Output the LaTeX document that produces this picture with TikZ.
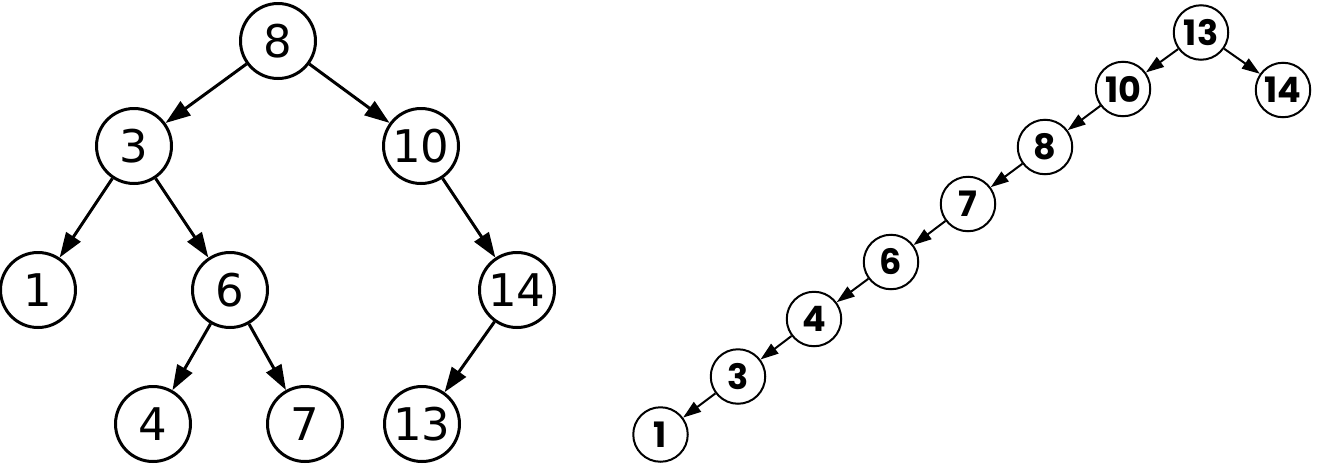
\documentclass[tikz,border=0pt]{standalone}
\usepackage{fontspec}
\usetikzlibrary{arrows.meta}
\newfontfamily\lfont{DejaVu Sans}
\newfontfamily\rfont{Poppins}
\tikzset{
  lnode/.style={circle,draw,line width=3pt,minimum size=75pt,inner sep=0pt,font=\lfont\fontsize{45}{45}\selectfont},
  rnode/.style={circle,draw,line width=2pt,minimum size=54.5pt,inner sep=0pt,font=\rfont\bfseries\fontsize{35}{35}\selectfont},
  ledge/.style={line width=3pt,-{Triangle[length=25pt,width=17pt]}},
  redge/.style={line width=2pt,-{Triangle[length=18pt,width=12pt]}},
}
\begin{document}
\begin{tikzpicture}[x=1pt,y=-1pt]
\useasboundingbox (0,0) rectangle (1320,469);
% left tree
\node[lnode] (L8) at (278,41) {8};
\node[lnode] (L3) at (134,146) {3};
\node[lnode] (L10) at (421,146) {10};
\node[lnode] (L1) at (38,290) {1};
\node[lnode] (L6) at (230,290) {6};
\node[lnode] (L14) at (517,290) {14};
\node[lnode] (L4) at (153,424) {4};
\node[lnode] (L7) at (305,424) {7};
\node[lnode] (L13) at (422,424) {13};
\draw[ledge] (L8) -- (L3);
\draw[ledge] (L8) -- (L10);
\draw[ledge] (L3) -- (L1);
\draw[ledge] (L3) -- (L6);
\draw[ledge] (L10) -- (L14);
\draw[ledge] (L6) -- (L4);
\draw[ledge] (L6) -- (L7);
\draw[ledge] (L14) -- (L13);
% right tree
\node[rnode] (R13) at (1201,32.5) {13};
\node[rnode] (R10) at (1123,89) {10};
\node[rnode] (R14) at (1283,90) {14};
\node[rnode] (R8) at (1045,147) {8};
\node[rnode] (R7) at (968,204) {7};
\node[rnode] (R6) at (891,262) {6};
\node[rnode] (R4) at (814,319) {4};
\node[rnode] (R3) at (738,376.5) {3};
\node[rnode] (R1) at (660.5,434.5) {1};
\draw[redge] (R13) -- (R10);
\draw[redge] (R13) -- (R14);
\draw[redge] (R10) -- (R8);
\draw[redge] (R8) -- (R7);
\draw[redge] (R7) -- (R6);
\draw[redge] (R6) -- (R4);
\draw[redge] (R4) -- (R3);
\draw[redge] (R3) -- (R1);
\end{tikzpicture}
\end{document}
